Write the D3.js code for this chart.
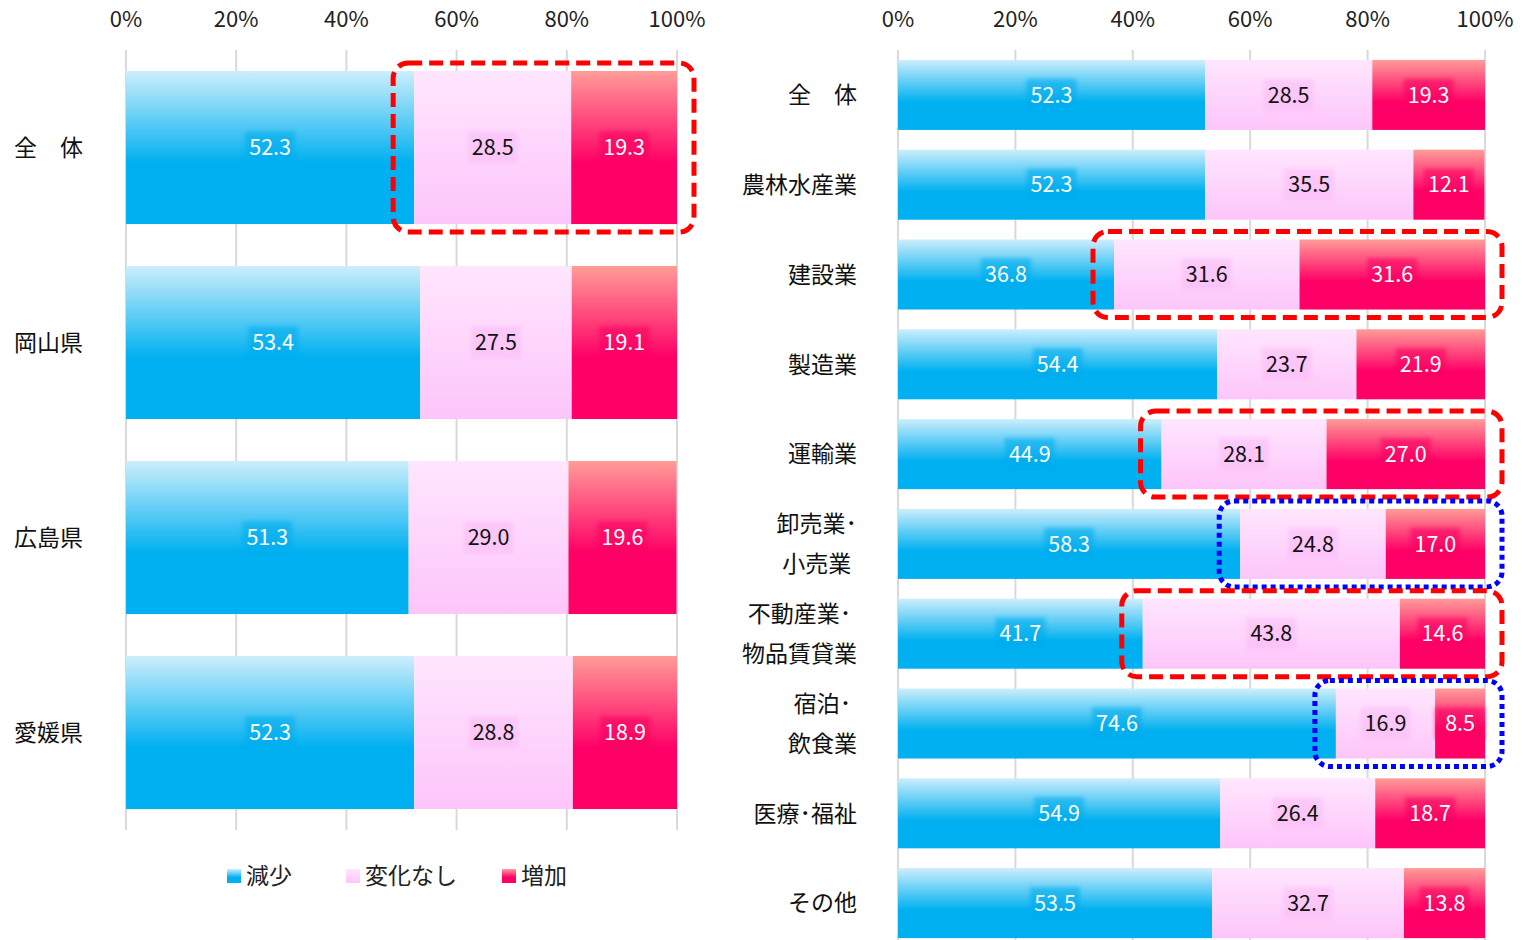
<!DOCTYPE html>
<html>
<head>
<meta charset="utf-8">
<title>増減 100% 積み上げ横棒</title>
<script src="https://cdn.jsdelivr.net/npm/d3@7"></script>
<style>
    body { margin: 0; background: #fff; }
    text { font-family: "Noto Sans CJK JP", "Noto Sans", sans-serif; }
</style>
</head>
<body>
<script>
// データ
var seriesNames = ["減少", "変化なし", "増加"];
var tickValues = [0, 20, 40, 60, 80, 100];

// 左：県別
var prefCats = ["全　体", "岡山県", "広島県", "愛媛県"];
var prefDecrease = [52.3, 53.4, 51.3, 52.3];
var prefNoChange = [28.5, 27.5, 29.0, 28.8];
var prefIncrease = [19.3, 19.1, 19.6, 18.9];

// 右：業種別
var indCats = ["全　体", "農林水産業", "建設業", "製造業", "運輸業",
    "卸売業･\n小売業", "不動産業･\n物品賃貸業", "宿泊･\n飲食業", "医療･福祉", "その他"];
var indDecrease = [52.3, 52.3, 36.8, 54.4, 44.9, 58.3, 41.7, 74.6, 54.9, 53.5];
var indNoChange = [28.5, 35.5, 31.6, 23.7, 28.1, 24.8, 43.8, 16.9, 26.4, 32.7];
var indIncrease = [19.3, 12.1, 31.6, 21.9, 27.0, 17.0, 14.6, 8.5, 18.7, 13.8];

// 強調枠
var prefHighlights = [{ cat: "全　体", kind: "red" }];
var indHighlights = [
    { cat: "建設業", kind: "red" },
    { cat: "運輸業", kind: "red" },
    { cat: "卸売業･\n小売業", kind: "blue" },
    { cat: "不動産業･\n物品賃貸業", kind: "red" },
    { cat: "宿泊･\n飲食業", kind: "blue" }
];

var width = 1523, height = 940;
var svg = d3.select("body").append("svg")
    .attr("width", width).attr("height", height);

// グラデーション
var defs = svg.append("defs");
var grads = [
    { id: "g0", stops: [[0, "#cdeefc"], [0.6, "#00b0f0"], [1, "#00b0f0"]], solid: "#00adee" },
    { id: "g1", stops: [[0, "#ffe6fe"], [1, "#fdc5fa"]], solid: "#fbbdf7" },
    { id: "g2", stops: [[0, "#ff9c98"], [0.6, "#ff0066"], [1, "#ff0066"]], solid: "#fa0062" }
];
grads.forEach(function (g) {
    var lg = defs.append("linearGradient").attr("id", g.id)
        .attr("x1", 0).attr("y1", 0).attr("x2", 0).attr("y2", 1);
    g.stops.forEach(function (s) {
        lg.append("stop").attr("offset", s[0]).attr("stop-color", s[1]);
    });
});
defs.append("filter").attr("id", "soft")
    .attr("x", "-30%").attr("y", "-30%").attr("width", "160%").attr("height", "160%")
    .append("feGaussianBlur").attr("stdDeviation", 2);

var labelColors = ["#fff", "#111", "#fff"];

function drawPanel(cats, vals, highlights, xr, yr, gridBottom, catX, catAnchor, opts) {
    var x = d3.scaleLinear().domain([0, 100]).range(xr);
    var y = d3.scaleBand().domain(cats).range(yr)
        .paddingInner(opts.pi).paddingOuter(opts.po);
    var g = svg.append("g");

    // 目盛線
    g.selectAll("line.grid").data(tickValues).enter().append("line")
        .attr("x1", function (d) { return x(d); }).attr("x2", function (d) { return x(d); })
        .attr("y1", 50).attr("y2", gridBottom)
        .attr("stroke", "#d9d9d9").attr("stroke-width", 2);

    // 目盛ラベル
    g.selectAll("text.tick").data(tickValues).enter().append("text")
        .attr("x", function (d) { return x(d); }).attr("y", 27)
        .attr("text-anchor", "middle").attr("font-size", 22).attr("fill", "#222")
        .text(function (d) { return d + "%"; });

    // 積み上げ
    var rows = cats.map(function (c, i) {
        var a = 0;
        return vals.map(function (v, k) {
            var s = { cat: c, k: k, v: v[i], x0: a, x1: Math.min(100, a + v[i]) };
            a += v[i];
            return s;
        });
    });
    var segs = [].concat.apply([], rows);

    g.selectAll("rect.seg").data(segs).enter().append("rect")
        .attr("x", function (d) { return x(d.x0); })
        .attr("y", function (d) { return y(d.cat); })
        .attr("width", function (d) { return x(d.x1) - x(d.x0); })
        .attr("height", y.bandwidth())
        .attr("fill", function (d) { return "url(#" + grads[d.k].id + ")"; });

    // ラベル背景と値
    var lab = g.selectAll("g.lab").data(segs).enter().append("g")
        .attr("transform", function (d) {
            return "translate(" + ((x(d.x0) + x(d.x1)) / 2) + "," + (y(d.cat) + y.bandwidth() / 2) + ")";
        });
    lab.append("rect")
        .attr("x", -25).attr("y", -16).attr("width", 50).attr("height", 32)
        .attr("fill", function (d) { return grads[d.k].solid; })
        .attr("opacity", 0.6).attr("filter", "url(#soft)");
    lab.append("text")
        .attr("text-anchor", "middle").attr("dy", "0.36em")
        .attr("font-size", 21.5)
        .attr("fill", function (d) { return labelColors[d.k]; })
        .text(function (d) { return d.v.toFixed(1); });

    // カテゴリ名（複数行は中央揃えで右寄せ）
    var ct = g.selectAll("text.cat").data(cats).enter().append("text")
        .attr("text-anchor", catAnchor)
        .attr("font-size", 23).attr("fill", "#111");
    ct.each(function (c) {
        var lines = c.split("\n");
        var cy = y(c) + y.bandwidth() / 2;
        var t = d3.select(this);
        var spans = lines.map(function (l, i) {
            return t.append("tspan").attr("x", catX)
                .attr("y", cy + (i - (lines.length - 1) / 2) * 40)
                .attr("dy", "0.36em").text(l);
        });
        if (lines.length > 1 && catAnchor === "end") {
            var maxW = d3.max(spans, function (s) { return s.node().getComputedTextLength(); });
            t.attr("text-anchor", "middle");
            spans.forEach(function (s) { s.attr("x", catX - maxW / 2); });
        }
    });

    // 強調枠
    highlights.forEach(function (h) {
        var i = cats.indexOf(h.cat);
        var x0 = x(vals[0][i]) - 21, x1 = x(100) + 17;
        var red = h.kind === "red";
        g.append("rect")
            .attr("x", x0).attr("y", y(h.cat) - 8)
            .attr("width", x1 - x0).attr("height", y.bandwidth() + 16)
            .attr("rx", 15).attr("ry", 15)
            .attr("fill", "none")
            .attr("stroke", red ? "#ff0000" : "#0000ff")
            .attr("stroke-width", red ? 5 : 5)
            .attr("stroke-dasharray", red ? "14,7" : "5,4");
    });
}

drawPanel(prefCats, [prefDecrease, prefNoChange, prefIncrease], prefHighlights,
    [126, 677], [50, 830], 830, 14, "start", { pi: 0.215, po: 0.1075 });
drawPanel(indCats, [indDecrease, indNoChange, indIncrease], indHighlights,
    [898, 1485], [50, 948], 940, 857, "end", { pi: 0.22, po: 0.11 });

// 凡例
var legendX = [227, 346, 502];
var leg = svg.append("g").selectAll("g").data(seriesNames).enter().append("g")
    .attr("transform", function (d, i) { return "translate(" + legendX[i] + ",869)"; });
leg.append("rect").attr("width", 14).attr("height", 14)
    .attr("fill", function (d, i) { return "url(#" + grads[i].id + ")"; });
leg.append("text").attr("x", 19).attr("y", 7).attr("dy", "0.36em")
    .attr("font-size", 23).attr("fill", "#222")
    .text(function (d) { return d; });
</script>
</body>
</html>
